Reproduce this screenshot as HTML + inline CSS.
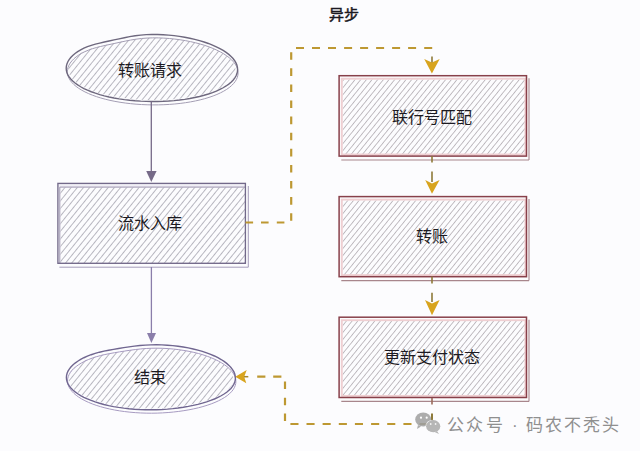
<!DOCTYPE html>
<html lang="zh-CN">
<head>
<meta charset="utf-8">
<style>
html,body{margin:0;padding:0;background:#fcfcfe;}
body{width:640px;height:451px;overflow:hidden;position:relative;font-family:"Liberation Sans",sans-serif;}
svg{position:absolute;left:0;top:0;filter:blur(0.3px);}
.t{position:absolute;font-size:16px;line-height:16px;color:#1c1a22;white-space:nowrap;}
.w{top:417px;font-size:17px;line-height:17px;color:#8f8f8f;-webkit-text-stroke:0;}
</style>
</head>
<body>
<svg width="640" height="451" viewBox="0 0 640 451">
<defs>
<pattern id="hp" patternUnits="userSpaceOnUse" width="4.8" height="8" patternTransform="rotate(39)">
<line x1="0" y1="0" x2="0" y2="8" stroke="#a3a1ad" stroke-width="1.5"/>
</pattern>
<pattern id="hr" patternUnits="userSpaceOnUse" width="4.4" height="8" patternTransform="rotate(39)">
<line x1="0" y1="0" x2="0" y2="8" stroke="#a7a1a7" stroke-width="1.35"/>
</pattern>
</defs>

<!-- Ellipse 1 : 转账请求 -->
<path d="M235.60,70.50 L235.42,72.54 L234.88,74.55 L233.99,76.54 L232.75,78.49 L231.16,80.39 L229.23,82.25 L226.97,84.04 L224.39,85.77 L221.49,87.42 L218.30,89.00 L214.83,90.49 L211.08,91.89 L207.09,93.19 L202.85,94.39 L198.40,95.48 L193.75,96.47 L188.92,97.34 L183.93,98.10 L178.80,98.74 L173.56,99.26 L168.23,99.66 L162.83,99.93 L157.37,100.08 L151.90,100.10 L146.43,100.00 L140.97,99.77 L135.57,99.42 L130.24,98.95 L125.00,98.35 L119.87,97.64 L114.88,96.81 L110.05,95.87 L105.40,94.82 L100.95,93.66 L96.71,92.40 L92.72,91.04 L88.97,89.59 L85.50,88.05 L82.31,86.43 L79.41,84.73 L76.83,82.97 L74.57,81.14 L72.64,79.26 L71.05,77.33 L69.81,75.36 L68.92,73.36 L68.38,71.34 L68.20,69.30 L68.38,67.27 L68.92,65.24 L69.81,63.23 L71.05,61.24 L72.64,59.29 L74.57,57.39 L76.83,55.57 L79.41,53.82 L82.31,52.18 L85.50,50.67 L88.97,49.29 L92.72,48.06 L96.71,46.96 L100.95,45.96 L105.40,45.02 L110.05,44.08 L114.88,43.09 L119.87,42.05 L125.00,40.99 L130.24,39.99 L135.57,39.13 L140.97,38.47 L146.43,38.05 L151.90,37.86 L157.37,37.88 L162.83,38.09 L168.23,38.47 L173.56,38.99 L178.80,39.65 L183.93,40.45 L188.92,41.38 L193.75,42.43 L198.40,43.60 L202.85,44.88 L207.09,46.27 L211.08,47.76 L214.83,49.34 L218.30,51.01 L221.49,52.76 L224.39,54.57 L226.97,56.44 L229.23,58.37 L231.16,60.34 L232.75,62.34 L233.99,64.36 L234.88,66.41 L235.42,68.45 Z" fill="url(#hp)"/>
<path d="M238.10,72.90 L237.92,75.09 L237.37,77.26 L236.46,79.41 L235.19,81.51 L233.57,83.57 L231.60,85.57 L229.29,87.50 L226.66,89.37 L223.71,91.16 L220.45,92.86 L216.91,94.47 L213.09,95.98 L209.01,97.39 L204.69,98.69 L200.15,99.88 L195.40,100.95 L190.47,101.90 L185.38,102.72 L180.15,103.41 L174.80,103.98 L169.36,104.41 L163.85,104.71 L158.29,104.87 L152.70,104.90 L147.11,104.79 L141.55,104.55 L136.04,104.18 L130.60,103.67 L125.25,103.03 L120.02,102.26 L114.93,101.37 L110.00,100.35 L105.25,99.21 L100.71,97.96 L96.39,96.60 L92.31,95.13 L88.49,93.57 L84.95,91.91 L81.69,90.16 L78.74,88.33 L76.11,86.43 L73.80,84.46 L71.83,82.43 L70.21,80.35 L68.94,78.23 L68.03,76.07 L67.48,73.89 L67.30,71.70 L67.48,69.51 L68.03,67.33 L68.94,65.16 L70.21,63.02 L71.83,60.92 L73.80,58.88 L76.11,56.91 L78.74,55.02 L81.69,53.25 L84.95,51.61 L88.49,50.11 L92.31,48.76 L96.39,47.55 L100.71,46.46 L105.25,45.43 L110.00,44.40 L114.93,43.34 L120.02,42.24 L125.25,41.12 L130.60,40.07 L136.04,39.17 L141.55,38.49 L147.11,38.06 L152.70,37.86 L158.29,37.89 L163.85,38.11 L169.36,38.51 L174.80,39.07 L180.15,39.78 L185.38,40.63 L190.47,41.63 L195.40,42.75 L200.15,44.00 L204.69,45.38 L209.01,46.87 L213.09,48.47 L216.91,50.16 L220.45,51.95 L223.71,53.82 L226.66,55.77 L229.29,57.78 L231.60,59.85 L233.57,61.96 L235.19,64.12 L236.46,66.30 L237.37,68.49 L237.92,70.70 Z" fill="none" stroke="#a39db3" stroke-width="1"/>
<path d="M237.60,69.50 L237.42,71.69 L236.87,73.86 L235.95,76.01 L234.68,78.11 L233.05,80.17 L231.08,82.17 L228.76,84.10 L226.12,85.97 L223.16,87.76 L219.89,89.46 L216.33,91.07 L212.50,92.58 L208.41,93.99 L204.07,95.29 L199.51,96.48 L194.75,97.55 L189.80,98.50 L184.70,99.32 L179.45,100.01 L174.08,100.58 L168.62,101.01 L163.09,101.31 L157.51,101.47 L151.90,101.50 L146.29,101.39 L140.71,101.15 L135.18,100.78 L129.72,100.27 L124.35,99.63 L119.10,98.86 L114.00,97.97 L109.05,96.95 L104.29,95.81 L99.73,94.56 L95.39,93.20 L91.30,91.73 L87.47,90.17 L83.91,88.51 L80.64,86.76 L77.68,84.93 L75.04,83.03 L72.72,81.06 L70.75,79.03 L69.12,76.95 L67.85,74.83 L66.93,72.67 L66.38,70.49 L66.20,68.30 L66.38,66.11 L66.93,63.93 L67.85,61.76 L69.12,59.62 L70.75,57.52 L72.72,55.48 L75.04,53.51 L77.68,51.62 L80.64,49.85 L83.91,48.21 L87.47,46.71 L91.30,45.36 L95.39,44.15 L99.73,43.06 L104.29,42.03 L109.05,41.00 L114.00,39.94 L119.10,38.84 L124.35,37.72 L129.72,36.67 L135.18,35.77 L140.71,35.09 L146.29,34.66 L151.90,34.46 L157.51,34.49 L163.09,34.71 L168.62,35.11 L174.08,35.67 L179.45,36.38 L184.70,37.23 L189.80,38.23 L194.75,39.35 L199.51,40.60 L204.07,41.98 L208.41,43.47 L212.50,45.07 L216.33,46.76 L219.89,48.55 L223.16,50.42 L226.12,52.37 L228.76,54.38 L231.08,56.45 L233.05,58.56 L234.68,60.72 L235.95,62.90 L236.87,65.09 L237.42,67.30 Z" fill="none" stroke="#6e687e" stroke-width="1.4"/>

<!-- Arrow 1 -->
<line x1="151.3" y1="101" x2="151.3" y2="176" stroke="#766a88" stroke-width="1.3"/>
<path d="M146.2,171 L156.6,171 L151.3,182 Z" fill="#766a88"/>

<!-- Rect 1 : 流水入库 -->
<rect x="60.5" y="187.5" width="184.5" height="75.5" fill="url(#hp)"/>
<rect x="58" y="184" width="187" height="3" fill="#f1eff6"/>
<path d="M59.8,187.1 L245.5,187.1 M59.8,187.1 L59.8,263" fill="none" stroke="#9a92ae" stroke-width="1"/>
<path d="M248.3,186 L248.3,267.2 M59.4,267.2 L248.3,267.2" fill="none" stroke="#a49cba" stroke-width="1"/>
<rect x="57.9" y="183.4" width="187.5" height="79.9" fill="none" stroke="#72698a" stroke-width="1.35"/>

<!-- Arrow 2 -->
<line x1="151.4" y1="267" x2="151.4" y2="337" stroke="#8a7eaa" stroke-width="1.3"/>
<path d="M147,333 L156,333 L151.4,343 Z" fill="#8a7eaa"/>

<!-- Ellipse 2 : 结束 -->
<path d="M233.40,379.10 L233.22,381.07 L232.69,383.01 L231.81,384.93 L230.59,386.81 L229.02,388.64 L227.12,390.43 L224.89,392.15 L222.35,393.82 L219.50,395.42 L216.35,396.95 L212.93,398.40 L209.24,399.77 L205.30,401.05 L201.12,402.25 L196.73,403.35 L192.15,404.35 L187.39,405.26 L182.47,406.05 L177.42,406.74 L172.25,407.31 L166.99,407.77 L161.67,408.11 L156.30,408.32 L150.90,408.40 L145.50,408.35 L140.13,408.18 L134.81,407.88 L129.55,407.45 L124.38,406.89 L119.33,406.22 L114.41,405.42 L109.65,404.50 L105.07,403.48 L100.68,402.34 L96.50,401.10 L92.56,399.77 L88.87,398.34 L85.45,396.82 L82.30,395.23 L79.45,393.56 L76.91,391.83 L74.68,390.03 L72.78,388.19 L71.21,386.31 L69.99,384.39 L69.11,382.44 L68.58,380.47 L68.40,378.50 L68.58,376.53 L69.11,374.56 L69.99,372.61 L71.21,370.68 L72.78,368.79 L74.68,366.95 L76.91,365.15 L79.45,363.42 L82.30,361.77 L85.45,360.21 L88.87,358.75 L92.56,357.40 L96.50,356.19 L100.68,355.11 L105.07,354.15 L109.65,353.28 L114.41,352.48 L119.33,351.70 L124.38,350.94 L129.55,350.19 L134.81,349.50 L140.13,348.92 L145.50,348.49 L150.90,348.24 L156.30,348.17 L161.67,348.28 L166.99,348.56 L172.25,348.98 L177.42,349.55 L182.47,350.25 L187.39,351.09 L192.15,352.05 L196.73,353.13 L201.12,354.33 L205.30,355.64 L209.24,357.06 L212.93,358.57 L216.35,360.18 L219.50,361.86 L222.35,363.62 L224.89,365.44 L227.12,367.31 L229.02,369.23 L230.59,371.18 L231.81,373.15 L232.69,375.13 L233.22,377.12 Z" fill="url(#hp)"/>
<path d="M235.90,381.50 L235.72,383.63 L235.18,385.73 L234.28,387.80 L233.03,389.83 L231.43,391.81 L229.49,393.74 L227.22,395.62 L224.62,397.42 L221.71,399.15 L218.50,400.81 L215.00,402.38 L211.24,403.86 L207.22,405.26 L202.96,406.55 L198.48,407.75 L193.80,408.83 L188.94,409.81 L183.92,410.67 L178.77,411.41 L173.49,412.03 L168.13,412.52 L162.69,412.88 L157.21,413.11 L151.70,413.20 L146.19,413.15 L140.71,412.96 L135.27,412.63 L129.91,412.17 L124.63,411.57 L119.48,410.83 L114.46,409.97 L109.60,408.98 L104.92,407.87 L100.44,406.65 L96.18,405.31 L92.16,403.86 L88.40,402.32 L84.90,400.68 L81.69,398.96 L78.78,397.16 L76.18,395.29 L73.91,393.35 L71.97,391.36 L70.37,389.33 L69.12,387.25 L68.22,385.15 L67.68,383.03 L67.50,380.90 L67.68,378.77 L68.22,376.65 L69.12,374.54 L70.37,372.46 L71.97,370.42 L73.91,368.43 L76.18,366.49 L78.78,364.62 L81.69,362.84 L84.90,361.15 L88.40,359.56 L92.16,358.11 L96.18,356.79 L100.44,355.60 L104.92,354.55 L109.60,353.60 L114.46,352.73 L119.48,351.89 L124.63,351.06 L129.91,350.27 L135.27,349.55 L140.71,348.94 L146.19,348.49 L151.70,348.24 L157.21,348.18 L162.69,348.30 L168.13,348.60 L173.49,349.06 L178.77,349.68 L183.92,350.44 L188.94,351.33 L193.80,352.37 L198.48,353.53 L202.96,354.82 L207.22,356.24 L211.24,357.76 L215.00,359.39 L218.50,361.12 L221.71,362.93 L224.62,364.82 L227.22,366.78 L229.49,368.79 L231.43,370.86 L233.03,372.95 L234.28,375.08 L235.18,377.22 L235.72,379.36 Z" fill="none" stroke="#a69ac0" stroke-width="1"/>
<path d="M235.40,378.10 L235.22,380.23 L234.68,382.33 L233.78,384.40 L232.52,386.43 L230.92,388.41 L228.97,390.34 L226.69,392.22 L224.08,394.02 L221.16,395.75 L217.94,397.41 L214.43,398.98 L210.65,400.46 L206.61,401.86 L202.34,403.15 L197.85,404.35 L193.15,405.43 L188.27,406.41 L183.24,407.27 L178.06,408.01 L172.77,408.63 L167.39,409.12 L161.93,409.48 L156.43,409.71 L150.90,409.80 L145.37,409.75 L139.87,409.56 L134.41,409.23 L129.03,408.77 L123.74,408.17 L118.56,407.43 L113.53,406.57 L108.65,405.58 L103.95,404.47 L99.46,403.25 L95.19,401.91 L91.15,400.46 L87.37,398.92 L83.86,397.28 L80.64,395.56 L77.72,393.76 L75.11,391.89 L72.83,389.95 L70.88,387.96 L69.28,385.93 L68.02,383.85 L67.12,381.75 L66.58,379.63 L66.40,377.50 L66.58,375.37 L67.12,373.25 L68.02,371.14 L69.28,369.06 L70.88,367.02 L72.83,365.03 L75.11,363.09 L77.72,361.22 L80.64,359.44 L83.86,357.75 L87.37,356.16 L91.15,354.71 L95.19,353.39 L99.46,352.20 L103.95,351.15 L108.65,350.20 L113.53,349.33 L118.56,348.49 L123.74,347.66 L129.03,346.87 L134.41,346.15 L139.87,345.54 L145.37,345.09 L150.90,344.84 L156.43,344.78 L161.93,344.90 L167.39,345.20 L172.77,345.66 L178.06,346.28 L183.24,347.04 L188.27,347.93 L193.15,348.97 L197.85,350.13 L202.34,351.42 L206.61,352.84 L210.65,354.36 L214.43,355.99 L217.94,357.72 L221.16,359.53 L224.08,361.42 L226.69,363.38 L228.97,365.39 L230.92,367.46 L232.52,369.55 L233.78,371.68 L234.68,373.82 L235.22,375.96 Z" fill="none" stroke="#706690" stroke-width="1.4"/>

<!-- Right rects -->
<g>
<rect x="342.5" y="79.5" width="183" height="75.9" fill="url(#hr)"/>
<rect x="341.8" y="78.7" width="183.6" height="75.8" fill="none" stroke="#efcfd2" stroke-width="1.9"/>
<path d="M529,78.2 L529,160.0 M341.3,160.0 L529,160.0" fill="none" stroke="#a8868c" stroke-width="1.1"/>
<rect x="339.1" y="75.7" width="187.4" height="80.4" fill="none" stroke="#88404a" stroke-width="1.5"/>
<rect x="342.5" y="200.4" width="183" height="75.6" fill="url(#hr)"/>
<rect x="341.8" y="199.6" width="183.6" height="75.5" fill="none" stroke="#efcfd2" stroke-width="1.9"/>
<path d="M529,199.1 L529,280.6 M341.3,280.6 L529,280.6" fill="none" stroke="#a8868c" stroke-width="1.1"/>
<rect x="339.1" y="196.6" width="187.4" height="80.1" fill="none" stroke="#88404a" stroke-width="1.5"/>
<rect x="342.5" y="321.0" width="183" height="75.8" fill="url(#hr)"/>
<rect x="341.8" y="320.2" width="183.6" height="75.7" fill="none" stroke="#efcfd2" stroke-width="1.9"/>
<path d="M529,319.7 L529,401.4 M341.3,401.4 L529,401.4" fill="none" stroke="#a8868c" stroke-width="1.1"/>
<rect x="339.1" y="317.2" width="187.4" height="80.3" fill="none" stroke="#88404a" stroke-width="1.5"/>
</g>

<!-- Dashed golden paths -->
<g fill="none" stroke="#bd9832" stroke-width="2.2">
<path d="M245.5,222.5 h7.6 M261.0,222.5 h7.6 M276.8,222.5 h7.6 M291.2,52.2 v7.6 M291.2,68.3 v7.6 M291.2,84.4 v7.6 M291.2,100.5 v7.6 M291.2,116.6 v7.6 M291.2,132.7 v7.6 M291.2,148.8 v7.6 M291.2,164.9 v7.6 M291.2,181.0 v7.6 M291.2,197.1 v7.6 M291.2,213.2 v7.6 M296.0,48 h8 M312.0,48 h8 M328.0,48 h8 M344.1,48 h8 M360.1,48 h8 M376.1,48 h8 M392.1,48 h8 M408.1,48 h8 M424.2,48 h8 M403.4,424 h8.1 M387.2,424 h8.1 M371.1,424 h8.1 M354.9,424 h8.1 M338.8,424 h8.1 M322.6,424 h8.1 M306.5,424 h8.1 M290.4,424 h8.1 M285,381.4 v7.5 M285,397.8 v7.5 M285,413.6 v7.5 M257.2,376.6 h8.2 M273.2,376.6 h8.2"/>
</g>
<g fill="none" stroke="#8e7a3a" stroke-width="1.6">
<path d="M432,56.4 L432,63"/>
<path d="M432,156 L432,162.5 M432,171.6 L432,182"/>
<path d="M432,276.5 L432,283.5 M432,292.8 L432,302"/>
<path d="M432,398 L432,404.5" stroke="#9a6a5a"/>
<path d="M432,413.5 L432,420.5 M419.5,424 L427,424" stroke="#8e7a3a" stroke-width="2"/>
</g>
<g fill="#d8a41e">
<path d="M424.2,59 L431.9,62.5 L439.7,59 L431.9,73.5 Z"/>
<path d="M425.2,180 L432,183.5 L439.6,180 L432,193.8 Z"/>
<path d="M425,300 L432,303.5 L439.6,300 L432,315.3 Z"/>
<path d="M235.3,376.7 L246.7,370 L244.2,376.7 L246.3,383.3 Z"/>
</g>
<line x1="244" y1="376.7" x2="248.3" y2="376.7" stroke="#a8872c" stroke-width="1.5"/>

<!-- WeChat icon -->
<g opacity="0.88">
<ellipse cx="423.2" cy="419.5" rx="8" ry="7.1" fill="#a2a2a2"/>
<path d="M418,425 L417,429 L421,426.5 Z" fill="#a2a2a2"/>
<ellipse cx="433.2" cy="426.2" rx="7.6" ry="6.5" fill="#fcfcfe"/>
<ellipse cx="433.2" cy="426.2" rx="7.1" ry="6.1" fill="#acacac"/>
<path d="M437,431 L439,434 L434.5,432 Z" fill="#acacac"/>
<circle cx="421" cy="417.7" r="1.1" fill="#fff"/>
<circle cx="426.7" cy="417.7" r="1.1" fill="#fff"/>
<circle cx="430.7" cy="424" r="0.9" fill="#f2f2f2"/>
<circle cx="435.6" cy="424" r="0.9" fill="#f2f2f2"/>
</g>
</svg>

<div class="t" style="left:329px;top:7px;font-size:15px;-webkit-text-stroke:0.5px #1c1a22;">异步</div>
<div class="t" style="left:118px;top:62.5px;">转账请求</div>
<div class="t" style="left:118px;top:216px;">流水入库</div>
<div class="t" style="left:392px;top:109.5px;">联行号匹配</div>
<div class="t" style="left:416px;top:229px;">转账</div>
<div class="t" style="left:384px;top:349.5px;">更新支付状态</div>
<div class="t" style="left:134px;top:370px;">结束</div>
<div class="t w" style="left:446.6px;letter-spacing:2.7px;">公众号</div>
<div class="t w" style="left:512px;">·</div>
<div class="t w" style="left:526.4px;letter-spacing:1.95px;">码农不秃头</div>
</body>
</html>
